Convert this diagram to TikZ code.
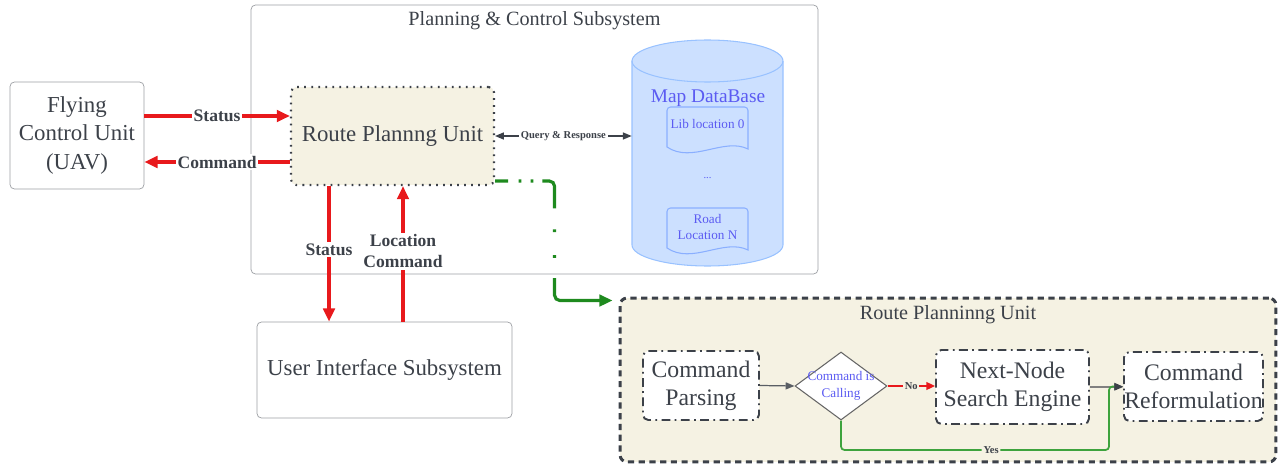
\documentclass[tikz,border=0pt]{standalone}
\usepackage{fontspec}
\setmainfont{Liberation Serif}
\usetikzlibrary{arrows.meta,shapes.geometric,calc}

\definecolor{ink}{HTML}{3C4149}
\definecolor{frame}{HTML}{9C9FA3}
\definecolor{beige}{HTML}{F5F2E3}
\definecolor{dbfill}{HTML}{CCE0FF}
\definecolor{dbline}{HTML}{99C2FF}
\definecolor{dbtext}{HTML}{5B5BF2}
\definecolor{arrred}{HTML}{E8191C}
\definecolor{arrgreen}{HTML}{1E8A1E}
\definecolor{yesgreen}{HTML}{3DA33D}

\tikzset{
  box/.style={draw=frame,rounded corners=2.5pt,fill=white,text=ink,align=center,
    font=\fontsize{13}{16}\selectfont},
  unitbox/.style={draw=ink,line width=1.1pt,dash pattern=on 5pt off 2.5pt on 1pt off 2.5pt,
    rounded corners=3pt,fill=white,text=ink,align=center,font=\fontsize{13.5}{16}\selectfont},
  redarrow/.style={draw=arrred,line width=2pt,-{Triangle[length=7.5pt,width=6.5pt]}},
  lbl/.style={fill=white,inner sep=1pt,text=ink,align=center,font=\bfseries\fontsize{10}{12}\selectfont},
  smalllbl/.style={inner sep=1pt,text=ink,font=\bfseries\fontsize{6}{7}\selectfont},
  docpage/.style={draw=dbline!90!blue,fill=dbfill,line width=0.6pt},
  doctext/.style={text=dbtext,align=center,font=\fontsize{7.5}{9}\selectfont}
}

\begin{document}
\begin{tikzpicture}[x=0.02cm,y=-0.02cm]
    \useasboundingbox (0,0) rectangle (1278,466);
    % subsystem frame
    \node (pcs) [draw=frame,rounded corners=2.5pt,minimum width=11.34cm,minimum height=5.38cm] at (534.5,139.5) {};
    \node (pcstitle) [text=ink,font=\fontsize{11.5}{13}\selectfont] at (534.5,21) {Planning \& Control Subsystem};
    % outer blocks
    \node (fcu) [box,minimum width=2.68cm,minimum height=2.14cm] at (77,135.5) {Flying\\Control Unit\\(UAV)};
    \node (ui) [box,minimum width=5.1cm,minimum height=1.92cm] at (384.5,370) {User Interface Subsystem};
    \node (rpu) [draw=ink,fill=beige,line width=1.2pt,dash pattern=on 1pt off 3pt,rounded corners=3pt,
        minimum width=4.06cm,minimum height=1.96cm,text=ink,font=\fontsize{13}{15}\selectfont] at (392.5,136) {Route Plannng Unit};
    % map database
    \node (db) [minimum width=3.02cm,minimum height=4.52cm] at (707.5,153) {};
    \draw[draw=dbline,fill=dbfill,line width=0.6pt] (632,61) -- (632,245)
        arc[start angle=180,end angle=360,x radius=1.51cm,y radius=0.42cm] -- (783,61)
        arc[start angle=0,end angle=180,x radius=1.51cm,y radius=0.42cm] -- cycle;
    \draw[draw=dbline,line width=0.6pt] (632,61) arc[start angle=180,end angle=360,x radius=1.51cm,y radius=0.42cm];
    \node (dbtitle) [text=dbtext,font=\fontsize{11}{13}\selectfont] at (708,98) {Map DataBase};
    \draw[docpage] (667,147) [rounded corners=2pt] |- (748,107) [sharp corners] -- (748,149)
        .. controls (724,137) and (692,164) .. (667,147) -- cycle;
    \node (lib0) [doctext] at (707.5,124) {Lib location 0};
    \node (dots) [doctext,font=\fontsize{6}{7}\selectfont] at (707.5,178) {...};
    \draw[docpage] (667,248) [rounded corners=2pt] |- (748,208) [sharp corners] -- (748,250)
        .. controls (724,238) and (692,265) .. (667,248) -- cycle;
    \node (roadn) [doctext] at (707.5,227) {Road\\Location N};
    % links of the subsystem
    \draw[redarrow] ($(fcu.east)+(0,-19.5)$) -- node[lbl]{Status} ($(rpu.west)+(0,-20)$);
    \draw[redarrow] ($(rpu.west)+(0,26)$) -- node[lbl]{Command} ($(fcu.east)+(0,26.5)$);
    \draw[ink,line width=0.7pt,{Triangle[length=5pt,width=4pt]}-{Triangle[length=5pt,width=4pt]}]
        (rpu.east) -- node[smalllbl,fill=white]{Query \& Response} (rpu.east -| db.west);
    \draw[redarrow] ($(rpu.south)+(-63.5,0)$) coordinate (st0) -- node[lbl,pos=0.47]{Status} (st0 |- ui.north);
    \draw[redarrow] ($(ui.north)+(18.5,0)$) coordinate (lc0) -- node[lbl,pos=0.52]{Location\\Command} (lc0 |- rpu.south);
    % route planning unit in detail
    \node (rpuf) [draw=ink,fill=beige,line width=1.7pt,dash pattern=on 3.5pt off 2.6pt,rounded corners=4pt,
        minimum width=13.12cm,minimum height=3.28cm] at (948,380) {};
    \node (rpuftitle) [text=ink,font=\fontsize{11.5}{13}\selectfont] at (948,315) {Route Planninng Unit};
    \draw[arrgreen,line width=1.8pt,rounded corners=3pt,
        dash pattern=on 7.4pt off 6pt on 1.6pt off 5.2pt on 1.6pt off 5.2pt on 21pt off 12pt on 1.6pt off 13pt on 1.6pt off 11.5pt on 120pt,
        -{Triangle[length=7.5pt,width=6.5pt]}]
        ($(rpu.east)+(0,45)$) -| ($(rpuf.north west)+(-64,4)$) -- ($(rpuf.north west)+(-6,4)$);
    \node (parse) [unitbox,minimum width=2.32cm,minimum height=1.38cm] at (701,385.5) {Command\\Parsing};
    \node (calling) [diamond,draw=gray!80!black,fill=white,line width=0.6pt,inner sep=0pt,
        minimum width=1.84cm,minimum height=1.36cm] at (841,386) {};
    \node (callingtext) [text=dbtext,align=center,font=\fontsize{7.5}{9.5}\selectfont] at (calling) {Command is\\Calling};
    \node (search) [unitbox,minimum width=3.06cm,minimum height=1.48cm] at (1012.5,387) {Next-Node\\Search Engine};
    \node (reform) [unitbox,inner sep=0pt,minimum width=2.78cm,minimum height=1.38cm] at (1193.5,386.5) {Command\\Reformulation};
    % flow
    \draw[ink!85,line width=0.7pt,-{Triangle[length=5pt,width=4pt]}] (parse.east) -- (calling.west);
    \draw[arrred,line width=0.9pt,-{Triangle[length=5pt,width=4.5pt]}] (calling.east)
        -- node[smalllbl,fill=beige]{No} (calling.east -| search.west);
    \draw[gray,line width=0.7pt,-{Triangle[length=5pt,width=4pt,color=ink]}] (search.east) -- (search.east -| reform.west);
    \draw[yesgreen,line width=1pt,rounded corners=2pt,-{Triangle[length=5pt,width=4pt,color=ink]}]
        (calling.south) |- node[smalllbl,fill=beige,pos=0.78]{Yes} ($(reform.west)+(-14,63.5)$)
        -- ($(reform.west)+(-14,0)$) -- (reform.west);
\end{tikzpicture}
\end{document}
